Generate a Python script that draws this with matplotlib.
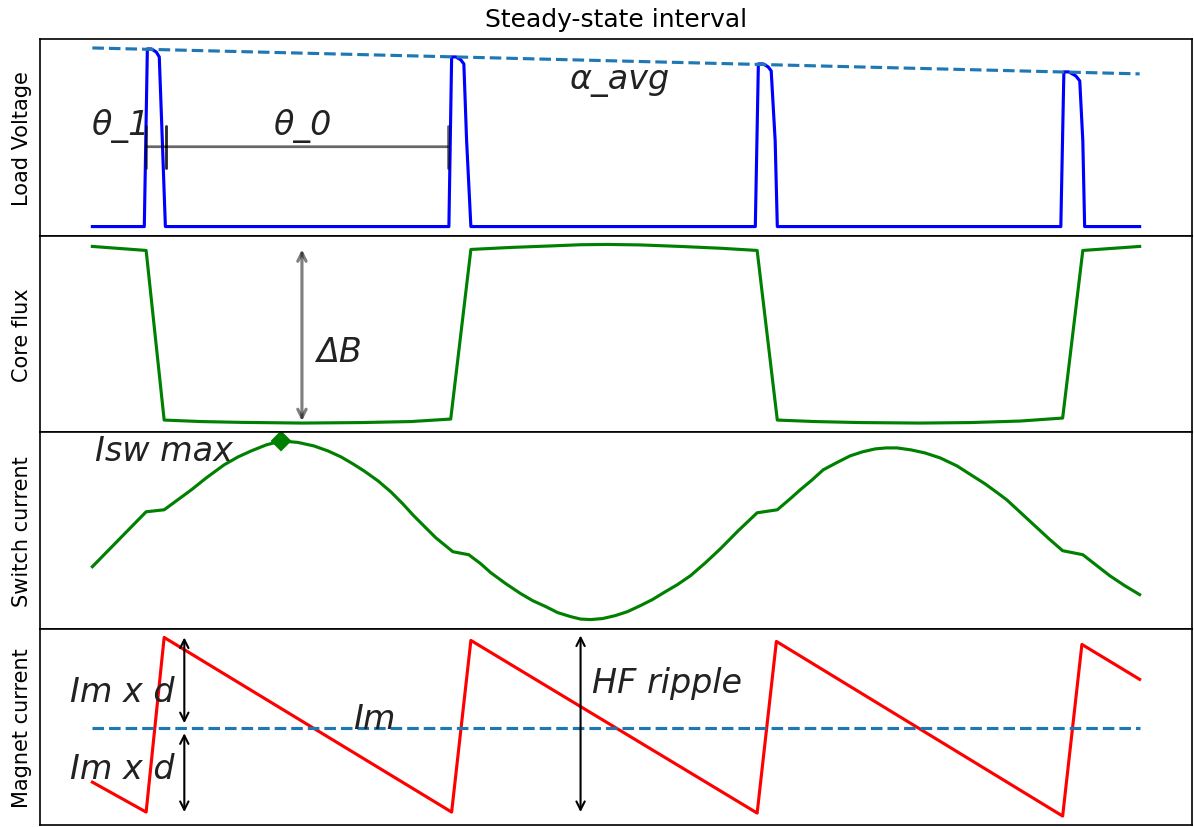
import matplotlib
matplotlib.use('Agg')
import matplotlib.pyplot as plt

# time axis in ms, one switching period = 10 ms
t_end = 34.28

# load voltage pulses (V)
t_v = [0.00, 1.70, 1.80, 1.93, 2.09, 2.19, 2.29, 2.39,
       11.67, 11.76, 11.90, 12.06, 12.16, 12.25, 12.39,
       21.70, 21.80, 21.96, 22.12, 22.22, 22.35, 22.42,
       31.70, 31.80, 31.96, 32.19, 32.32, 32.42, 32.48, t_end]
v_load = [0, 0, 356, 356, 350, 340, 172, 0,
          0, 340, 340, 334, 326, 172, 0,
          0, 326, 326, 320, 312, 172, 0,
          0, 310, 310, 302, 292, 172, 0, 0]
t_avg = [0.00, t_end]
v_avg = [358, 306]

# core flux (T)
t_b = [0.00, 1.76, 2.35, 3.56, 4.87, 6.86, 8.79, 10.42, 11.73,
       12.39, 13.69, 15.00, 15.98, 16.86, 17.94, 19.25, 20.56, 21.76,
       22.42, 23.66, 25.13, 27.09, 28.73, 30.36, 31.76, 32.42, t_end]
flux = [0.88, 0.84, -0.85, -0.865, -0.873, -0.88, -0.875, -0.865, -0.84,
        0.85, 0.87, 0.885, 0.897, 0.90, 0.895, 0.88, 0.862, 0.84,
        -0.85, -0.865, -0.875, -0.88, -0.875, -0.86, -0.83, 0.84, 0.88]

# switch current (A)
t_sw = [0.00, 1.76, 2.35, 2.75, 3.24, 3.73, 4.31, 4.77, 5.20, 5.69, 6.18,
        6.73, 7.25, 7.71, 8.14, 8.53, 8.89, 9.35, 9.77, 10.16, 10.52, 10.88,
        11.24, 11.80, 12.32, 12.71, 13.04, 13.53, 14.02, 14.41, 14.84, 15.23,
        15.65, 15.98, 16.31, 16.70, 17.12, 17.52, 17.94, 18.33, 18.76, 19.15,
        19.58, 20.07, 20.56, 21.14, 21.76, 22.42, 22.84, 23.17, 23.56, 23.92,
        24.35, 24.80, 25.20, 25.62, 25.98, 26.34, 26.80, 27.25, 27.75, 28.30,
        28.76, 29.22, 29.58, 29.93, 30.39, 30.85, 31.31, 31.76, 32.42, 32.88,
        33.30, 33.79, t_end]
i_sw = [-3.6, 1.9, 2.1, 3.0, 4.1, 5.3, 6.6, 7.4, 8.0, 8.6, 9.0,
        8.85, 8.5, 8.0, 7.4, 6.7, 6.0, 5.0, 3.9, 2.7, 1.5, 0.4,
        -0.7, -2.1, -2.4, -3.3, -4.2, -5.3, -6.3, -7.0, -7.6, -8.2,
        -8.6, -8.85, -8.9, -8.8, -8.5, -8.1, -7.5, -6.9, -6.1, -5.4,
        -4.5, -3.2, -1.8, 0.0, 1.8, 2.1, 3.2, 4.1, 5.1, 6.1,
        6.8, 7.5, 7.9, 8.2, 8.3, 8.3, 8.1, 7.8, 7.3, 6.5,
        5.6, 4.7, 3.9, 3.1, 1.8, 0.5, -0.8, -2.0, -2.4, -3.5,
        -4.5, -5.5, -6.4]
t_peak = 6.18
i_peak = 9.0

# magnet current (A)
t_m = [0.00, 1.76, 2.35, 11.76, 12.39, 21.76, 22.39, 31.76, 32.39, t_end]
i_mag = [5.84, 4.64, 11.64, 4.64, 11.52, 4.60, 11.48, 4.48, 11.36, 9.96]
i_mag_avg = 8.0

labels = ['Load Voltage', 'Core flux', 'Switch current', 'Magnet current']

fig, axs = plt.subplots(4, 1, sharex=True, figsize=(7.96, 5.52), dpi=150)
fig.subplots_adjust(left=40/1194, right=1192/1194, top=1-40/828, bottom=1-826/828, hspace=0)
txt = dict(fontsize=16, style='italic', color='#222222')

ax = axs[0]
ax.set_title('Steady-state interval')
ax.plot(t_v, v_load, 'b')
ax.plot(t_avg, v_avg, '--', color='tab:blue')
ax.annotate('', xy=(1.76, 160), xytext=(2.42, 160),
            arrowprops=dict(arrowstyle='|-|', color='k', alpha=0.6, lw=1.3,
                            shrinkA=0, shrinkB=0))
ax.annotate('', xy=(2.42, 160), xytext=(11.63, 160),
            arrowprops=dict(arrowstyle='|-|', color='k', alpha=0.6, lw=1.3,
                            shrinkA=0, shrinkB=0))
ax.text(-0.03, 186, 'θ_1', **txt)
ax.text(5.92, 186, 'θ_0', **txt)
ax.text(15.59, 278, 'α_avg', **txt)

ax = axs[1]
ax.plot(t_b, flux, 'g')
ax.annotate('', xy=(6.86, 0.85), xytext=(6.86, -0.86),
            arrowprops=dict(arrowstyle='<->', color='k', alpha=0.5, lw=1.5,
                            shrinkA=0, shrinkB=0))
ax.text(7.32, -0.26, 'ΔB', **txt)

ax = axs[2]
ax.plot(t_sw, i_sw, 'g')
ax.plot(t_peak, i_peak, 'gD')
ax.text(0.07, 7.1, 'Isw max', **txt)

ax = axs[3]
ax.plot(t_m, i_mag, 'r')
ax.plot(t_avg, [i_mag_avg, i_mag_avg], '--', color='tab:blue')
ax.annotate('', xy=(3.01, 11.64), xytext=(3.01, 8.2),
            arrowprops=dict(arrowstyle='<->', color='k', lw=1, shrinkA=0, shrinkB=0))
ax.annotate('', xy=(3.01, 7.8), xytext=(3.01, 4.64),
            arrowprops=dict(arrowstyle='<->', color='k', lw=1, shrinkA=0, shrinkB=0))
ax.annotate('', xy=(15.98, 11.72), xytext=(15.98, 4.64),
            arrowprops=dict(arrowstyle='<->', color='k', lw=1, shrinkA=0, shrinkB=0))
ax.text(-0.72, 9.08, 'Im x d', **txt)
ax.text(-0.72, 6.0, 'Im x d', **txt)
ax.text(8.53, 8.0, 'Im', **txt)
ax.text(16.34, 9.44, 'HF ripple', **txt)

for ax, lab in zip(axs, labels):
    ax.set_ylabel(lab)
    ax.set_xticks([])
    ax.set_yticks([])

fig.savefig('out.png', dpi=150)
